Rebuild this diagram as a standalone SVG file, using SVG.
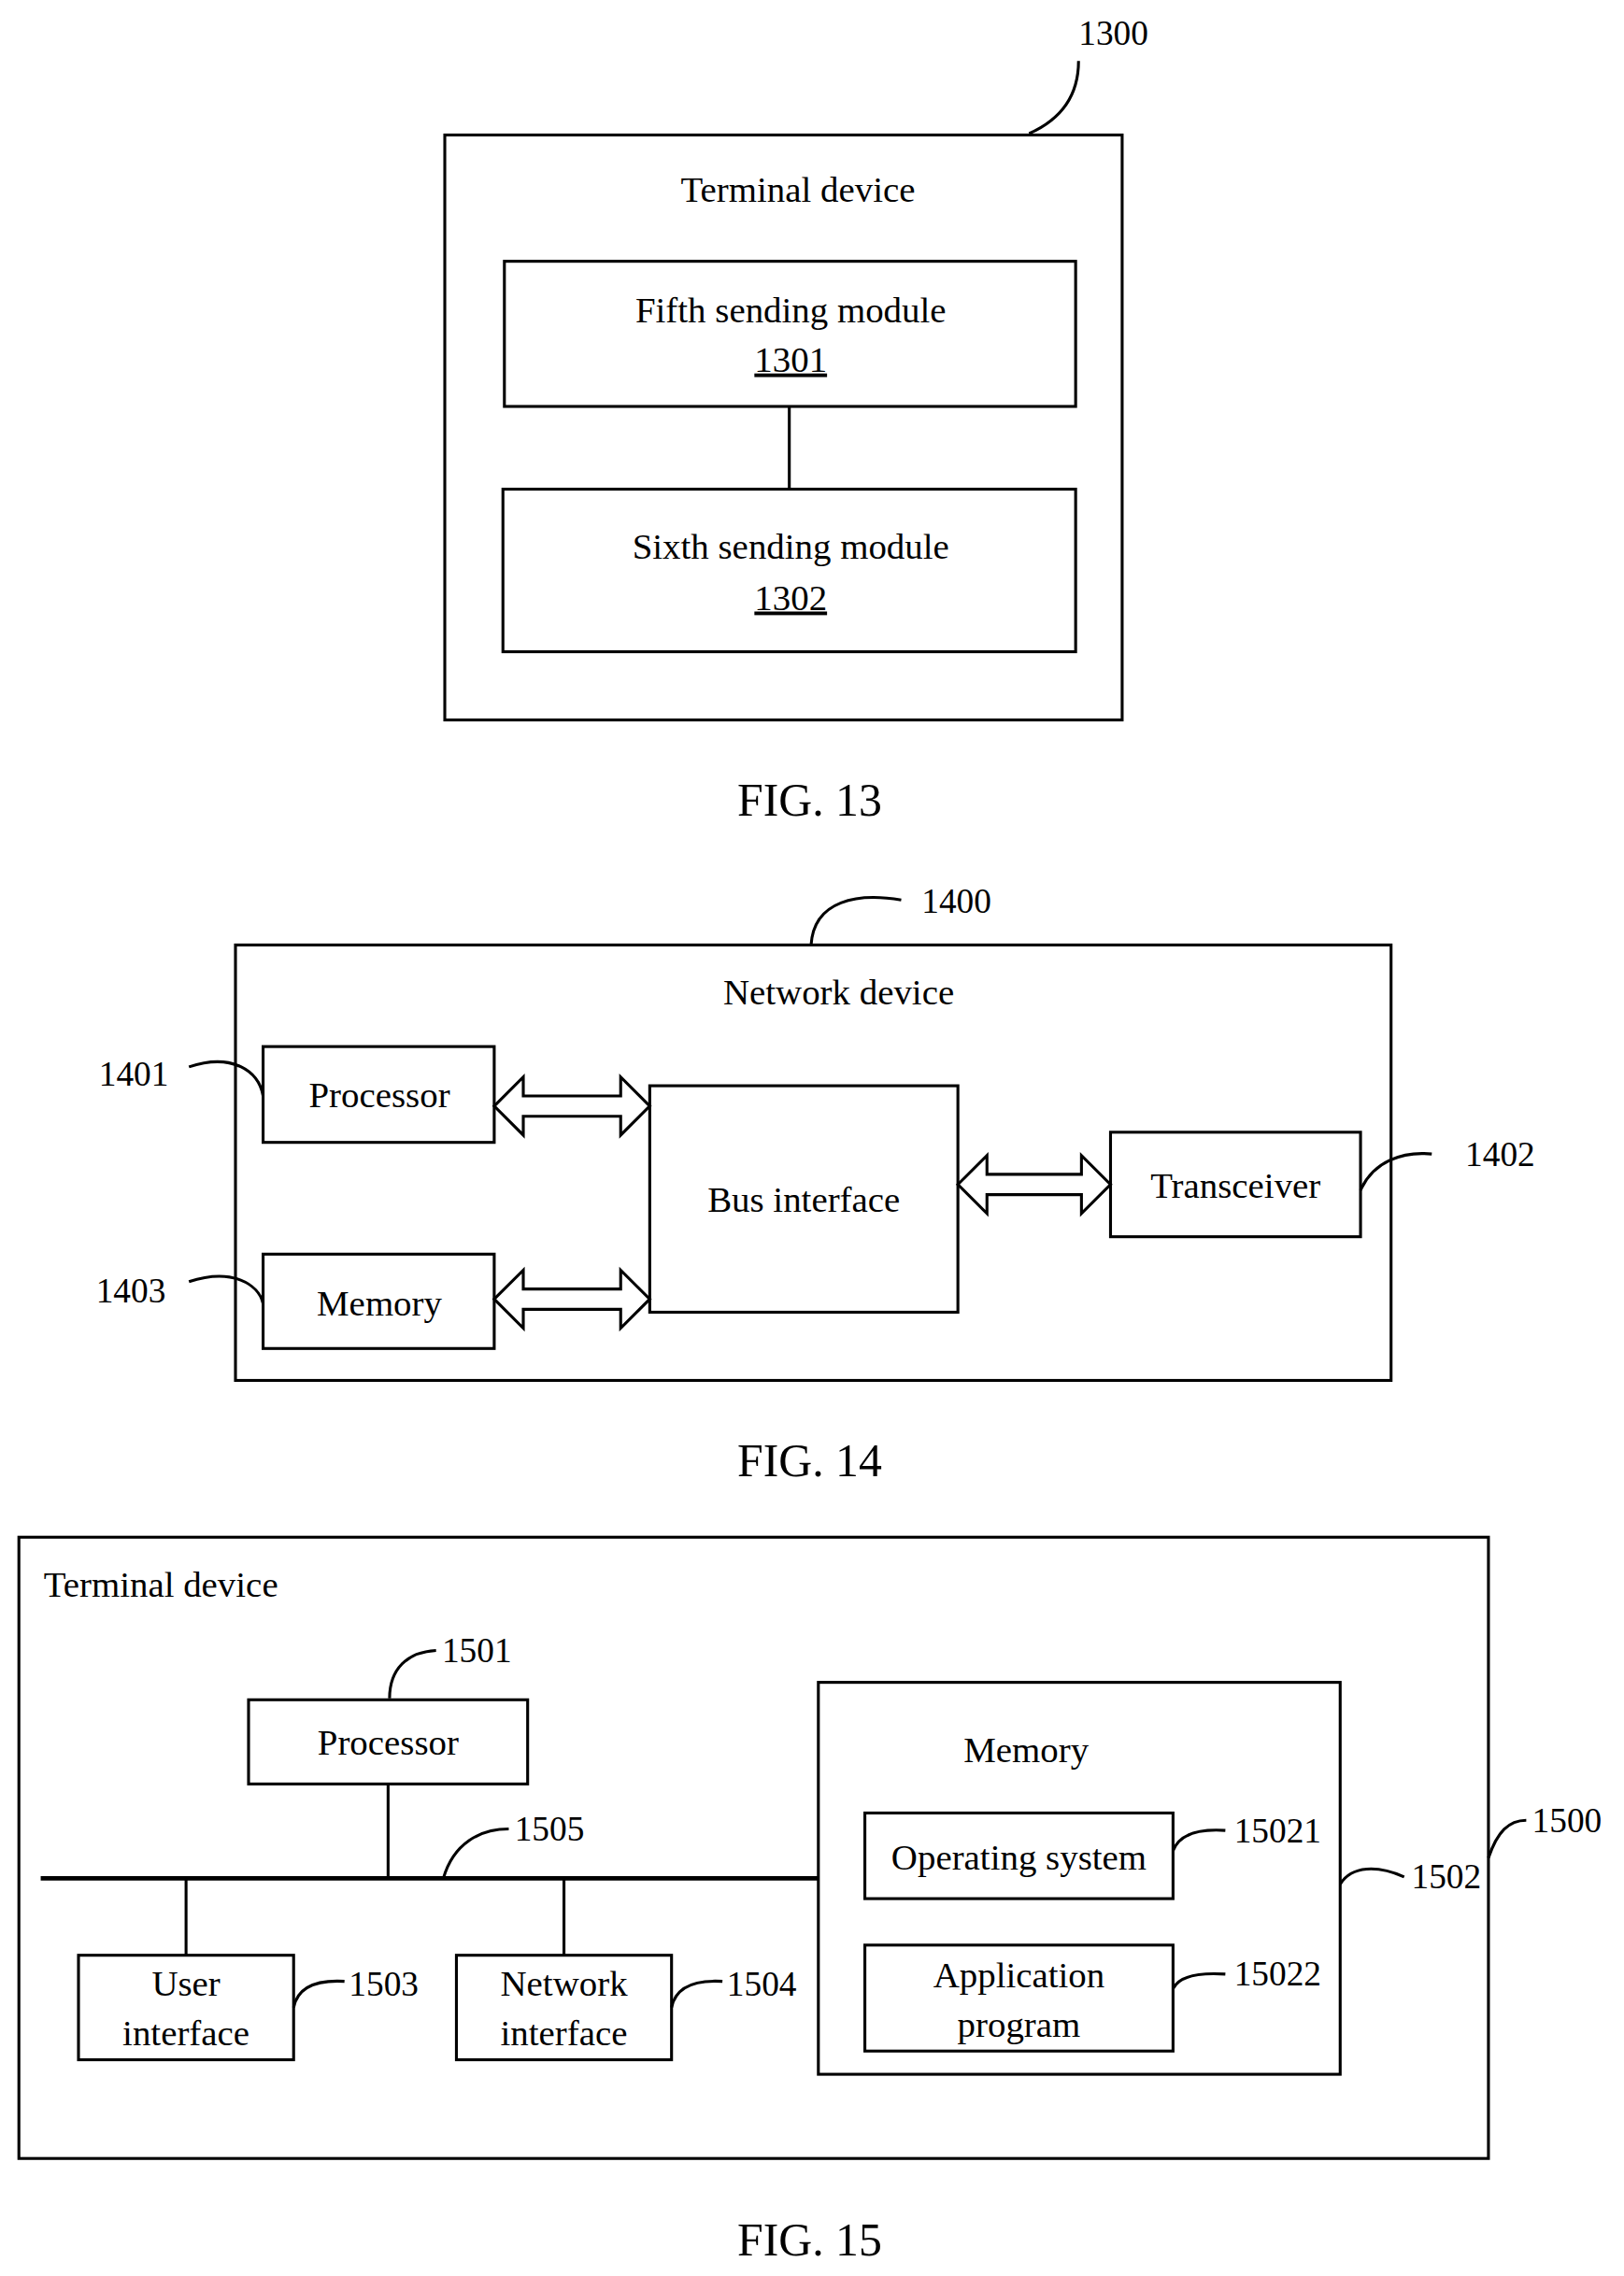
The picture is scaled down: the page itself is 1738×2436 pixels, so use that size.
<svg xmlns="http://www.w3.org/2000/svg" width="1738" height="2436" viewBox="0 0 1738 2436">
<style>
.b{fill:none;stroke:#000;stroke-width:2}
.t{font-family:"Liberation Serif",serif;font-size:25px;fill:#000;text-anchor:middle}
.n{font-family:"Liberation Serif",serif;font-size:24px;fill:#000;text-anchor:middle}
.f{font-family:"Liberation Serif",serif;font-size:32px;fill:#000;text-anchor:middle}
.c{fill:none;stroke:#000;stroke-width:2}
.a{fill:#fff;stroke:#000;stroke-width:2}
</style>
<rect width="1738" height="2436" fill="#fff"/>
<g transform="scale(1.5556 1.5536)">
<g id="fig13">
<rect class="b" x="306" y="93" width="466" height="403"/>
<text class="t" x="549" y="139">Terminal device</text>
<text class="n" x="766" y="31">1300</text>
</g>
<g id="n1301"><rect class="b" x="347" y="180" width="393" height="100"/>
<text class="t" x="544" y="222">Fifth sending module</text>
<text class="t" x="544" y="256" text-decoration="underline">1301</text></g>
<g id="n1302"><rect class="b" x="346" y="337" width="394" height="112"/>
<text class="t" x="544" y="385">Sixth sending module</text>
<text class="t" x="544" y="420" text-decoration="underline">1302</text></g>
<text class="f" x="557" y="562">FIG. 13</text>

<g id="fig14"><rect class="b" x="162" y="651" width="795" height="300"/>
<text class="t" x="577" y="692">Network device</text>
<text class="n" x="658" y="629">1400</text>
<text class="n" x="92" y="748">1401</text>
<text class="n" x="90" y="897">1403</text>
<text class="n" x="1032" y="803">1402</text></g>
<g id="n1401"><rect class="b" x="181" y="721" width="159" height="66"/><text class="t" x="261" y="763">Processor</text></g>
<g id="n1403"><rect class="b" x="181" y="864" width="159" height="65"/><text class="t" x="261" y="906">Memory</text></g>
<g id="bus"><rect class="b" x="447" y="748" width="212" height="156"/><text class="t" x="553" y="835">Bus interface</text></g>
<g id="n1402"><rect class="b" x="764" y="780" width="172" height="72"/><text class="t" x="850" y="825">Transceiver</text></g>
<text class="f" x="557" y="1017">FIG. 14</text>

<g id="fig15"><rect class="b" x="13" y="1059" width="1011" height="428"/>
<text class="t" x="30" y="1100" style="text-anchor:start">Terminal device</text>
<text class="n" x="328" y="1145">1501</text>
<text class="n" x="378" y="1268">1505</text>
<text class="n" x="264" y="1375">1503</text>
<text class="n" x="524" y="1375">1504</text>
<text class="n" x="879" y="1269">15021</text>
<text class="n" x="879" y="1368">15022</text>
<text class="n" x="995" y="1301">1502</text>
<text class="n" x="1078" y="1262">1500</text></g>
<g id="n1501"><rect class="b" x="171" y="1171" width="192" height="58"/><text class="t" x="267" y="1209">Processor</text></g>
<g id="n1503"><rect class="b" x="54" y="1347" width="148" height="72"/><text class="t" x="128" y="1375">User</text><text class="t" x="128" y="1409">interface</text></g>
<g id="n1504"><rect class="b" x="314" y="1347" width="148" height="72"/><text class="t" x="388" y="1375">Network</text><text class="t" x="388" y="1409">interface</text></g>
<g id="n1502"><rect class="b" x="563" y="1159" width="359" height="270"/><text class="t" x="706" y="1214">Memory</text></g>
<g id="n15021"><rect class="b" x="595" y="1249" width="212" height="59"/><text class="t" x="701" y="1288">Operating system</text></g>
<g id="n15022"><rect class="b" x="595" y="1340" width="212" height="73"/><text class="t" x="701" y="1369">Application</text><text class="t" x="701" y="1403">program</text></g>
<text class="f" x="557" y="1554">FIG. 15</text>

<g id="connectors">
<line class="c" x1="543" y1="280" x2="543" y2="337"/>
<path class="c" d="M708,92 C735,80 742,60 742,42"/>
<path class="c" d="M558,651 C560,620 590,615 620,620"/>
<path class="c" d="M130,735 C160,725 178,738 181,755"/>
<path class="c" d="M130,883 C160,873 178,885 181,898"/>
<path class="c" d="M936,820 C945,800 965,793 985,795"/>
<path class="a" d="M340,762 L360,742 L360,755 L427,755 L427,742 L447,762 L427,782 L427,769 L360,769 L360,782 Z"/>
<path class="a" d="M340,895 L360,875 L360,888 L427,888 L427,875 L447,895 L427,915 L427,902 L360,902 L360,915 Z"/>
<path class="a" d="M659,816 L679,796 L679,809 L744,809 L744,796 L764,816 L744,836 L744,823 L679,823 L679,836 Z"/>
<line x1="28" y1="1294" x2="563" y2="1294" stroke="#000" stroke-width="3"/>
<line class="c" x1="267" y1="1229" x2="267" y2="1294"/>
<line class="c" x1="128" y1="1294" x2="128" y2="1347"/>
<line class="c" x1="388" y1="1294" x2="388" y2="1347"/>
<path class="c" d="M268,1170 C268,1150 280,1138 300,1137"/>
<path class="c" d="M305,1294 C312,1270 330,1260 350,1260"/>
<path class="c" d="M202,1383 C205,1368 220,1364 237,1365"/>
<path class="c" d="M462,1383 C465,1368 480,1364 497,1365"/>
<path class="c" d="M807,1275 C812,1262 828,1260 843,1261"/>
<path class="c" d="M807,1370 C812,1360 828,1359 843,1360"/>
<path class="c" d="M922,1298 C930,1285 948,1285 966,1293"/>
<path class="c" d="M1024,1280 C1030,1262 1038,1254 1050,1254"/>
</g>
</g>
</svg>
